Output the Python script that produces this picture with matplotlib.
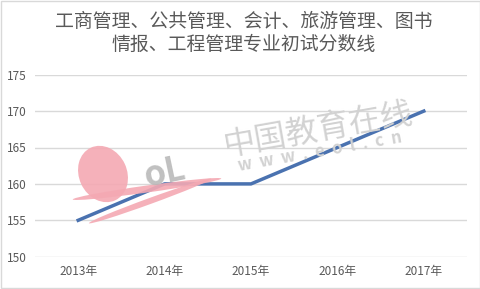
import matplotlib.pyplot as plt
from matplotlib.patches import Ellipse, Rectangle

plt.rcParams['font.family'] = ['Noto Sans CJK SC', 'DejaVu Sans']

# data
years = ['2013年', '2014年', '2015年', '2016年', '2017年']
scores = [155, 160, 160, 165, 170]
y_ticks = [150, 155, 160, 165, 170, 175]
title = '工商管理、公共管理、会计、旅游管理、图书\n情报、工程管理专业初试分数线'

W, H = 481, 289
fig = plt.figure(figsize=(W / 100, H / 100), dpi=100)
ax = fig.add_axes([35 / W, 1 - 256.7 / H, 432 / W, (256.7 - 74.7) / H])


def px(x, y):
    # pixel position in the picture -> figure fraction
    return x / W, 1 - y / H


# frame around the picture
fig.patches.append(Rectangle((0.002, 0.003), 0.996, 0.994, transform=fig.transFigure,
                             fill=False, edgecolor='#d9d9d9', linewidth=1))

# watermark logo, drawn in pixels so it keeps its shape
pink = '#f4a9b3'
for cx, cy, w, h, ang in [(103, 174, 48, 58, 25), (147, 189, 150, 7, 8),
                          (150, 201, 130, 6, 20)]:
    fig.patches.append(Ellipse((cx, H - cy), w, h, angle=ang, facecolor=pink,
                               edgecolor='none', alpha=0.9, transform=None, zorder=1))
fig.text(*px(165, 172), 'oL', fontsize=25, fontweight='bold', color='#b5b5b5',
         rotation=12, ha='center', va='center', alpha=0.85)
fig.text(*px(318, 129), '中国教育在线', fontsize=23, color='#d2d2d2', rotation=10,
         ha='center', va='center')
fig.text(*px(320, 152), 'w  w  w  .  e  o  l  .  c  n', fontsize=12, color='#d2d2d2',
         rotation=10, ha='center', va='center', fontweight='bold')

x = range(len(years))
ax.plot(x, scores, color='#4a72b0', linewidth=2.5, zorder=3)

ax.set_xlim(-0.5, len(years) - 0.5)
ax.set_ylim(150, 175)
ax.set_yticks(y_ticks)
ax.set_xticks(list(x))
ax.set_xticklabels(years)
ax.grid(axis='y', color='#d9d9d9', linewidth=1)
ax.set_axisbelow(True)
ax.patch.set_alpha(0)
for s in ax.spines.values():
    s.set_visible(False)
ax.tick_params(length=0, labelsize=8.5, labelcolor='#595959')
ax.tick_params(axis='y', pad=6)
ax.tick_params(axis='x', pad=6)

fig.text(0.506, 1 - 33 / H, title, ha='center', va='center', fontsize=13.6,
         color='#595959', linespacing=1.15)

fig.savefig('out.png', dpi=100)
